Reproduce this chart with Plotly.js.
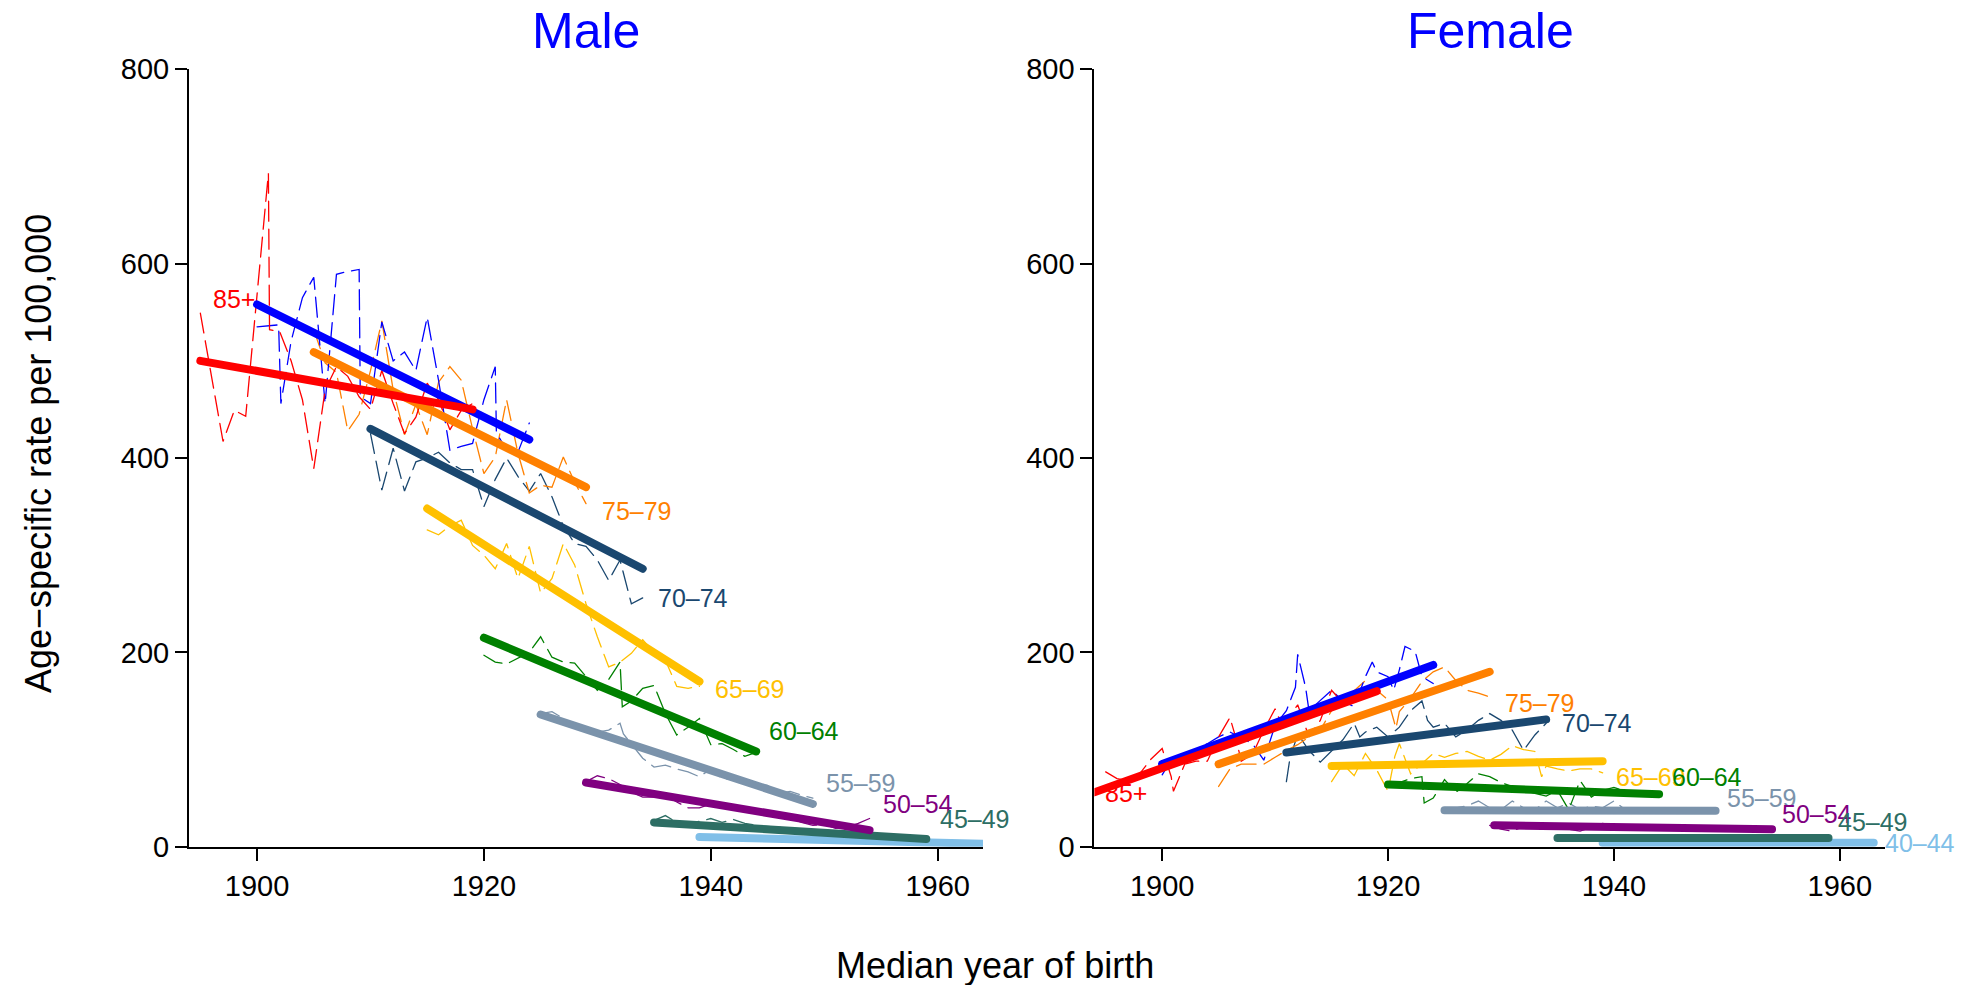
<!DOCTYPE html>
<html><head><meta charset="utf-8">
<script src="https://cdn.plot.ly/plotly-3.0.1.min.js"></script>
<style>
html,body{margin:0;padding:0;background:#fff}
#chart{width:1977px;height:985px}
path.js-line{stroke-linecap:round}
</style></head><body><div id="chart"></div><script>
const ageGroups = ["85+","80–84","75–79","70–74","65–69","60–64","55–59","50–54","45–49","40–44"];
const groupColors = ["#ff0000","#0000ff","#ff8000","#1a476f","#ffc000","#008000","#7b93ab","#800080","#2d6e64","#80bfe8"];

// ---- Male observed (dashed) ----
const m85_x = [1895,1897,1898,1899,1901,1901.1,1902,1903,1904,1905,1906,1907,1908,1909,1910,1911,1912,1913,1914,1915,1916,1917,1918,1919];
const m85_y = [549,417,449,443,693,532,530,500,460,389,470,494,484,463,450,490,456,425,442,477,460,429,449,456];
const m80_x = [1900,1901.9,1902.1,1903,1904,1905,1906,1907,1908,1909,1909.1,1910,1911,1912,1913,1914,1915,1916,1917,1918,1919,1920,1921,1921.1,1922,1923,1924];
const m80_y = [535,537,456,520,565,586,456,589,592,594,463,456,540,500,509,490,545,480,408,412,415,460,494,426,408,406,436];
const m75_x = [1905,1906,1907,1908,1909,1910,1911,1912,1913,1914,1915,1916,1917,1918,1919,1920,1921,1922,1923,1924,1925,1926,1927,1928,1929];
const m75_y = [532,498,488,428,445,490,541,470,424,455,424,478,494,480,430,384,401,460,405,364,372,370,401,375,353];
const m70_x = [1910,1911,1912,1913,1914,1915,1916,1917,1918,1919,1920,1921,1922,1923,1924,1925,1926,1927,1928,1929,1930,1931,1932,1933,1934];
const m70_y = [425,367,410,366,396,400,406,395,388,388,350,378,400,381,366,384,360,330,312,309,295,274,295,250,256];
const m65_x = [1915,1916,1917,1918,1919,1920,1921,1922,1923,1924,1925,1926,1927,1928,1929,1930,1931,1932,1933,1934,1935,1936,1937,1938,1939];
const m65_y = [326,321,330,336,310,300,286,312,276,309,261,276,312,290,250,216,185,190,199,213,200,192,165,163,165];
const m60_x = [1920,1921,1922,1923,1924,1925,1926,1927,1928,1929,1930,1931,1932,1932.2,1933,1934,1935,1936,1937,1938,1939,1940,1941,1942,1943,1944];
const m60_y = [197,190,188,194,200,216,195,190,189,175,161,172,190,144,150,163,166,137,115,123,132,105,106,100,93,97];
const m55_x = [1925,1926,1927,1928,1929,1930,1931,1932,1932.3,1933,1934,1935,1936,1937,1938,1939,1940,1941,1942,1943,1944,1945,1946,1947,1948,1949];
const m55_y = [137,139,132,125,122,118,120,127,116,106,91,82,84,80,77,72,80,70,69,66,65,63,55,57,53,50];
const m50_x = [1929,1930,1931,1932,1933,1934,1935,1936,1937,1938,1939,1940,1941,1942,1943,1944,1945,1946,1947,1948,1949,1950,1951,1952,1953,1954];
const m50_y = [67,73,70,64,56,51,51,53,46,40,40,44,43,40,37,35,34,33,30,25,22,23,19,20,24,29];
const m45_x = [1935,1936,1937,1938,1939,1940,1941,1942,1943,1944,1945,1946,1947,1948,1949,1950,1951,1952,1953,1954,1955,1956,1957,1958,1959];
const m45_y = [27,32,25,24,26,29,25,28,24,22,21,20,19,18,17,16,15,14,13,10,10,9,9,8,8];
const m40_x = [1939,1940,1941,1942,1943,1944,1945,1946,1947,1948,1949,1950,1951,1952,1953,1954,1955,1956,1957,1958,1959,1960,1961,1962,1963,1964];
const m40_y = [12,11,10,10,9,9,8,9,7,7,6,6,6,5,5,5,4,4,4,3,3,3,3,3,2,2];

// ---- Female observed (dashed) ----
const f85_x = [1895,1896,1897,1898,1899,1900,1900.8,1901,1902,1903,1904,1905,1906,1906.5,1907,1908,1909,1910,1910.5,1911,1912,1913,1914,1915,1916,1917,1918,1919];
const f85_y = [77,70,68,75,90,101,72,57,85,88,88,113,133,113,88,95,120,142,128,130,146,113,130,161,148,150,158,161];
const f80_x = [1900,1901,1902,1903,1904,1905,1906,1907,1908,1909,1909.5,1910,1911,1911.8,1912,1912.7,1913,1914,1915,1916,1917,1918,1918.6,1919,1920,1920.5,1921,1921.5,1922.4,1923,1924];
const f80_y = [74,93,96,100,106,113,118,112,106,89,106,125,140,164,198,164,140,150,161,150,144,175,190,180,175,161,182,206,201,175,168];
const f75_x = [1905,1906,1907,1908,1909,1910,1911,1912,1913,1914,1915,1916,1917,1918,1919,1920,1920.7,1921,1922,1923,1924,1925,1926,1927,1928,1929];
const f75_y = [62,80,85,85,85,92,99,105,113,120,140,150,160,171,161,151,122,139,153,170,180,185,171,161,158,154];
const f70_x = [1911,1911.3,1912,1913,1914,1915,1916,1917,1917.5,1918,1919,1920,1921,1922,1923,1923.5,1924,1925,1926,1927,1928,1929,1930,1931,1932,1933,1934];
const f70_y = [67,90,116,99,87,99,110,127,113,118,123,113,123,140,150,130,123,127,113,120,130,137,130,120,99,115,127];
const f65_x = [1915,1916,1917,1918,1919,1920,1920.6,1921,1922,1923,1924,1925,1926,1927,1928,1929,1930,1931,1932,1933,1933.6,1934,1935,1936,1937,1938,1939];
const f65_y = [67,85,73,96,79,57,93,106,75,85,96,92,96,98,93,89,95,104,100,98,72,83,80,78,80,80,76];
const f60_x = [1920,1921,1922,1923,1923.2,1924,1925,1926,1927,1928,1929,1930,1931,1932,1933,1934,1935,1936,1937,1938,1939,1940,1941,1942,1943,1944];
const f60_y = [62,66,70,72,45,50,69,56,65,75,72,66,62,58,55,52,58,38,68,51,58,61,57,56,55,54];
const f55_x = [1925,1926,1927,1928,1929,1930,1931,1932,1933,1934,1935,1936,1937,1938,1939,1940,1941,1942,1943,1944,1945,1946,1947,1948,1949];
const f55_y = [37,40,42,47,40,38,47,40,38,47,40,45,38,42,40,47,38,36,40,38,36,35,37,36,35];
const f50_x = [1929,1930,1931,1932,1933,1934,1935,1936,1937,1938,1939,1940,1941,1942,1943,1944,1945,1946,1947,1948,1949,1950,1951,1952,1953,1954];
const f50_y = [22,18,16,21,19,23,20,18,16,20,24,22,20,19,21,18,20,19,18,17,19,17,18,16,18,17];
const f45_x = [1935,1936,1937,1938,1939,1940,1941,1942,1943,1944,1945,1946,1947,1948,1949,1950,1951,1952,1953,1954,1955,1956,1957,1958,1959];
const f45_y = [9,8,10,9,12,9,8,10,9,11,9,8,9,10,8,9,9,8,10,9,8,9,9,8,9];
const f40_x = [1939,1940,1941,1942,1943,1944,1945,1946,1947,1948,1949,1950,1951,1952,1953,1954,1955,1956,1957,1958,1959,1960,1961,1962,1963];
const f40_y = [5,4,4,5,4,4,3,4,5,4,4,3,4,4,4,3,4,4,3,4,4,4,3,4,4];

// ---- Fitted trends (thick): start/end year and value per age group ----
const maleFitX0 = [1895,1900,1905,1910,1915,1920,1925,1929,1935,1939];
const maleFitX1 = [1919,1924,1929,1934,1939,1944,1949,1954,1959,1964];
const maleFitY0 = [500,558,509,430,348,215,136,66,25,10];
const maleFitY1 = [450,419,370,286,170,98,44,17,8,3];
const femaleFitX0 = [1894,1900,1905,1911,1915,1920,1925,1929.4,1935,1939];
const femaleFitX1 = [1919,1924,1929,1934,1939,1944,1949,1954,1959,1963];
const femaleFitY0 = [56,85,85,97,83,64,37.5,22,9,4];
const femaleFitY1 = [160,187,180,131,88,54,37,18,9,4];

const xTicks = [1900,1920,1940,1960];
const yTicks = [0,200,400,600,800];

const maleObs = [[m85_x,m85_y],[m80_x,m80_y],[m75_x,m75_y],[m70_x,m70_y],[m65_x,m65_y],[m60_x,m60_y],[m55_x,m55_y],[m50_x,m50_y],[m45_x,m45_y],[m40_x,m40_y]];
const femaleObs = [[f85_x,f85_y],[f80_x,f80_y],[f75_x,f75_y],[f70_x,f70_y],[f65_x,f65_y],[f60_x,f60_y],[f55_x,f55_y],[f50_x,f50_y],[f45_x,f45_y],[f40_x,f40_y]];

const FONT = "Liberation Sans, Arial, Helvetica, sans-serif";
const traces = [];
function addPanel(obs, fx0, fx1, fy0, fy1, xa, ya){
  // dashed observed, draw from youngest to oldest
  for (let i = obs.length-1; i >= 0; i--) {
    traces.push({x: obs[i][0], y: obs[i][1], xaxis: xa, yaxis: ya, mode: 'lines', type: 'scatter',
      line: {color: groupColors[i], width: 1.3, dash: '20px,8px'}, hoverinfo: 'skip', showlegend: false});
  }
  for (let i = obs.length-1; i >= 0; i--) {
    traces.push({x: [fx0[i], fx1[i]], y: [fy0[i], fy1[i]], xaxis: xa, yaxis: ya, mode: 'lines', type: 'scatter',
      line: {color: groupColors[i], width: 8}, hoverinfo: 'skip', showlegend: false});
  }
}
addPanel(maleObs, maleFitX0, maleFitX1, maleFitY0, maleFitY1, 'x', 'y');
addPanel(femaleObs, femaleFitX0, femaleFitX1, femaleFitY0, femaleFitY1, 'x2', 'y2');

// label placements (layout)
const maleLabelPos = [[1900,564,'right'],null,[1930.2,345],[1935.2,256],[1940.2,162],[1945,119],[1950,66],[1955,44],[1960,28],[1965.2,3.5]];
const femaleLabelPos = [[1894.8,55],null,[1930.2,148],[1935.2,127.5],[1940,72],[1945,72],[1949.8,50.6],[1954.7,33.7],[1959.7,25.7],[1963.8,4.3]];
const annotations = [];
function addLabels(pos, xr, yr){
  for (let i = 0; i < pos.length; i++) {
    const p = pos[i]; if (!p) continue;
    annotations.push({x: p[0], y: p[1], xref: xr, yref: yr, text: ageGroups[i], showarrow: false,
      xanchor: p[2] || 'left', yanchor: 'middle', font: {family: FONT, size: 25, color: groupColors[i]}});
  }
}
addLabels(maleLabelPos, 'x', 'y');
addLabels(femaleLabelPos, 'x2', 'y2');
annotations.push({text: 'Male', x: 586/1977, y: 1-31/985, xref: 'paper', yref: 'paper', showarrow: false, xanchor: 'center', yanchor: 'middle', font: {family: FONT, size: 50, color: '#0000ff'}});
annotations.push({text: 'Female', x: 1490/1977, y: 1-31/985, xref: 'paper', yref: 'paper', showarrow: false, xanchor: 'center', yanchor: 'middle', font: {family: FONT, size: 50, color: '#0000ff'}});
annotations.push({text: 'Median year of birth', x: 995/1977, y: 1-965/985, xref: 'paper', yref: 'paper', showarrow: false, xanchor: 'center', yanchor: 'middle', font: {family: FONT, size: 36, color: '#000'}});
annotations.push({text: 'Age−specific rate per 100,000', x: 38/1977, y: 1-454/985, xref: 'paper', yref: 'paper', showarrow: false, textangle: -90, xanchor: 'center', yanchor: 'middle', font: {family: FONT, size: 36, color: '#000'}});

const axX = (dom) => ({domain: dom, range: [1894, 1964], tickvals: xTicks, ticktext: xTicks.map(String), ticks: 'outside', ticklen: 12, tickwidth: 2, tickcolor: '#000',
  showline: true, linecolor: '#000', linewidth: 2, showgrid: false, zeroline: false, tickfont: {family: FONT, size: 29, color: '#000'}, fixedrange: true});
const axY = (dom) => ({domain: dom, range: [0, 800], tickvals: yTicks, ticktext: yTicks.map(String), ticks: 'outside', ticklen: 12, tickwidth: 2, tickcolor: '#000',
  showline: true, linecolor: '#000', linewidth: 2, showgrid: false, zeroline: false, tickfont: {family: FONT, size: 29, color: '#000'}, fixedrange: true});

const yDom = [1-846.7/985, 1-69.3/985];
const layout = {
  width: 1977, height: 985, margin: {l:0, r:0, t:0, b:0},
  paper_bgcolor: '#fff', plot_bgcolor: '#fff', showlegend: false,
  xaxis: axX([189/1977, 983/1977]), yaxis: Object.assign(axY(yDom), {anchor: 'x'}),
  xaxis2: Object.assign(axX([1094.4/1977, 1885/1977]), {anchor: 'y2'}), yaxis2: Object.assign(axY(yDom), {anchor: 'x2'}),
  annotations: annotations
};
layout.xaxis.anchor = 'y';
Plotly.newPlot('chart', traces, layout, {displayModeBar: false, staticPlot: true});
</script></body></html>
